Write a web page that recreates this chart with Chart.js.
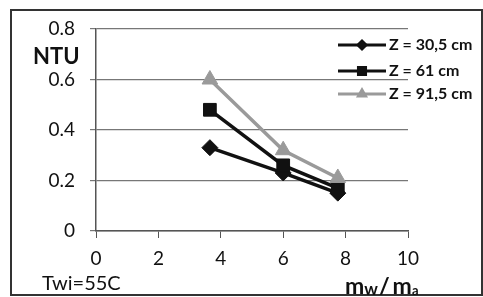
<!DOCTYPE html>
<html><head><meta charset="utf-8">
<script src="https://cdn.jsdelivr.net/npm/chart.js@4"></script>
<style>html,body{margin:0;padding:0;background:#fff;}canvas{display:block;}</style>
</head><body>
<div style="width:483px;height:297px;position:relative;"><canvas id="c" width="483" height="297"></canvas></div>
<script>
const seriesLabels = ["Z = 30,5 cm", "Z = 61 cm", "Z = 91,5 cm"];
const xValues = [3.65, 6, 7.75];
const z305 = [0.33, 0.23, 0.15];
const z61 = [0.48, 0.26, 0.17];
const z915 = [0.60, 0.32, 0.21];
const yTicks = [0, 0.2, 0.4, 0.6, 0.8];
const xTicks = [0, 2, 4, 6, 8, 10];

const FONT = "Lato, 'Open Sans', sans-serif";
const colors = ["#111", "#111", "#9a9a9a"];
const shapes = ["rectRot", "rect", "triangle"];
const radii = [8, 9, 9];
const series = [z305, z61, z915];

const datasets = series.map((s, i) => ({
  label: seriesLabels[i],
  data: s.map((v, j) => ({x: xValues[j], y: v})),
  borderColor: colors[i],
  backgroundColor: colors[i],
  borderWidth: 3.5,
  pointStyle: shapes[i],
  pointRadius: radii[i],
  pointBorderWidth: 1,
  tension: 0,
  order: 3 - i
}));

const deco = {
  id: 'deco',
  afterDraw(chart) {
    const ctx = chart.ctx;
    ctx.save();
    ctx.strokeStyle = '#333';
    ctx.lineWidth = 2;
    ctx.strokeRect(11, 10, 471, 285);
    ctx.fillStyle = '#111';
    ctx.font = "bold 22px " + FONT;
    ctx.textBaseline = 'middle';
    ctx.textAlign = 'left';
    ctx.fillText('NTU', 33, 57);
    ctx.textBaseline = 'alphabetic';
    ctx.font = "20px " + FONT;
    ctx.fillText('Twi=55C', 42, 290);
    // x axis title with subscripts
    let x = 345;
    const by = 294;
    ctx.font = "bold 23px " + FONT;
    ctx.fillText('m', x, by); x += ctx.measureText('m').width;
    ctx.font = "bold 17px " + FONT;
    ctx.fillText('w', x, by + 1); x += ctx.measureText('w').width + 1;
    ctx.font = "bold 23px " + FONT;
    ctx.fillText('/', x, by); x += ctx.measureText('/').width + 3;
    ctx.fillText('m', x, by); x += ctx.measureText('m').width;
    ctx.font = "bold 13px " + FONT;
    ctx.fillText('a', x, by + 1);
    // legend
    ctx.textBaseline = 'middle';
    const ly = [45, 71, 94];
    chart.data.datasets.forEach((ds, i) => {
      const y = ly[i];
      ctx.strokeStyle = ds.borderColor;
      ctx.lineWidth = 3;
      ctx.beginPath(); ctx.moveTo(338, y); ctx.lineTo(386, y); ctx.stroke();
      ctx.fillStyle = ds.borderColor;
      Chart.helpers.drawPoint(ctx, {pointStyle: ds.pointStyle, radius: i === 1 ? 5 : 4, rotation: 0, borderWidth: 1}, 362, y);
      ctx.fill();
      ctx.fillStyle = '#111';
      ctx.font = "bold 16px " + FONT;
      ctx.fillText(ds.label, 389, y);
    });
    ctx.restore();
  }
};

new Chart(document.getElementById('c'), {
  type: 'line',
  data: {datasets},
  options: {
    responsive: false,
    animation: false,
    layout: {padding: {left: 0, right: 75, top: 29, bottom: 0}},
    plugins: {legend: {display: false}, tooltip: {enabled: false}},
    scales: {
      x: {
        type: 'linear', min: 0, max: 10,
        afterBuildTicks: (s) => { s.ticks = xTicks.map(v => ({value: v})); },
        afterFit: (s) => { s.height = 66; },
        grid: {drawOnChartArea: false, drawTicks: true, tickLength: 7, color: '#555', lineWidth: 1},
        border: {color: '#555', width: 1.5},
        ticks: {color: '#111', font: {family: FONT, size: 19}, padding: 9, maxRotation: 0}
      },
      y: {
        min: 0, max: 0.8,
        afterBuildTicks: (s) => { s.ticks = yTicks.map(v => ({value: v})); },
        afterFit: (s) => { s.width = 96; },
        grid: {drawTicks: true, tickLength: 6, color: '#777', lineWidth: 1.2},
        border: {color: '#555', width: 1.5},
        ticks: {color: '#111', font: {family: FONT, size: 19}, padding: 15, callback: v => String(Math.round(v * 10) / 10)}
      }
    }
  },
  plugins: [deco]
});
</script>
</body></html>
